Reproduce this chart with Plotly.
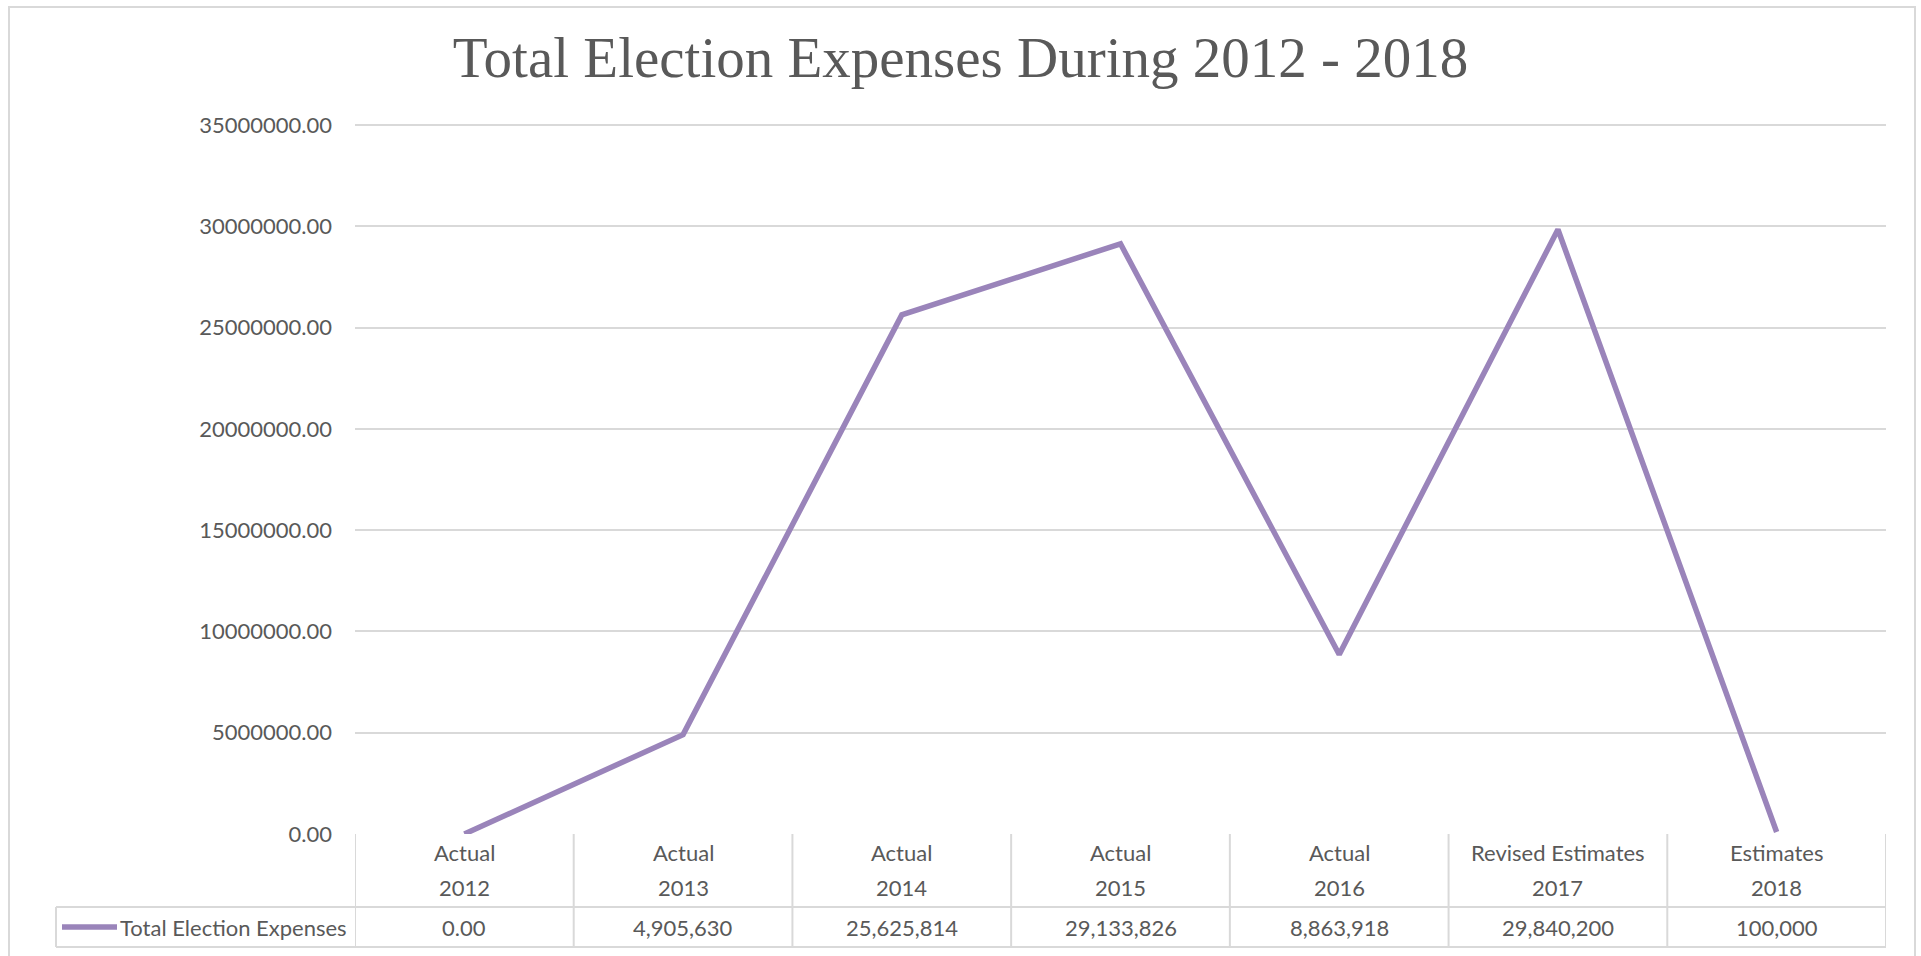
import plotly.graph_objects as go

# Series data
stages = ["Actual", "Actual", "Actual", "Actual", "Actual", "Revised Estimates", "Estimates"]
years = ["2012", "2013", "2014", "2015", "2016", "2017", "2018"]
expenses = [0, 4905630, 25625814, 29133826, 8863918, 29840200, 100000]
table_values = ["0.00", "4,905,630", "25,625,814", "29,133,826", "8,863,918", "29,840,200", "100,000"]
series_name = "Total Election Expenses"
y_ticks = [0, 5000000, 10000000, 15000000, 20000000, 25000000, 30000000, 35000000]

W, H = 1921, 956
L, R, T, B = 355, 35, 125, 122
PW, PH = W - L - R, H - T - B

LINE = "#9A84BA"
GRID = "#D9D9D9"
TXT = "#595959"
SANS = "Lato, 'Open Sans', sans-serif"
FS = 22


def px_x(px):
    return (px - L) / PW


def px_y(py):
    return (H - B - py) / PH


x = list(range(len(years)))

fig = go.Figure()
fig.add_trace(go.Scatter(
    x=x, y=expenses, mode="lines", name=series_name,
    line=dict(color=LINE, width=5.5), hoverinfo="skip", showlegend=False,
))

shapes = []
ann = []
n = len(years)

# top gridline sits on the edge of the plot area, so draw it explicitly
shapes.append(dict(type="line", xref="paper", yref="paper", x0=0, x1=1, y0=1, y1=1,
                   line=dict(color=GRID, width=2), layer="below"))

# data table under the plot: header row (stage / year) and a value row
y_top, y_mid, y_bot = px_y(834), px_y(907), px_y(947)
line_style = dict(color=GRID, width=2)
for yy in (y_mid, y_bot):
    shapes.append(dict(type="line", xref="paper", yref="paper", x0=px_x(56), x1=1, y0=yy, y1=yy, line=line_style))
shapes.append(dict(type="line", xref="paper", yref="paper", x0=px_x(56), x1=px_x(56), y0=y_mid, y1=y_bot, line=line_style))
for i in range(n + 1):
    shapes.append(dict(type="line", xref="x", yref="paper", x0=i - 0.5, x1=i - 0.5, y0=y_top, y1=y_bot, line=line_style))

for i in range(n):
    for text, py in ((stages[i], 852), (years[i], 887), (table_values[i], 927)):
        ann.append(dict(x=i, y=px_y(py), xref="x", yref="paper", text=text, showarrow=False,
                        font=dict(family=SANS, size=FS, color=TXT), yanchor="middle"))

# legend key in the table's first cell
shapes.append(dict(type="line", xref="paper", yref="paper", x0=px_x(62), x1=px_x(117),
                   y0=px_y(927), y1=px_y(927), line=dict(color=LINE, width=5.5)))
ann.append(dict(x=px_x(118), y=px_y(927), xref="paper", yref="paper", text=series_name, showarrow=False,
                xanchor="left", yanchor="middle", font=dict(family=SANS, size=FS, color=TXT)))

# outer chart frame
shapes.append(dict(type="rect", xref="paper", yref="paper", x0=px_x(9), x1=px_x(1915),
                   y0=px_y(970), y1=px_y(7), line=dict(color=GRID, width=2), layer="below"))

fig.update_layout(
    width=W, height=H,
    margin=dict(l=L, r=R, t=T, b=B, pad=0),
    paper_bgcolor="white", plot_bgcolor="white",
    title=dict(text="Total Election Expenses During 2012 - 2018", x=0.5, xanchor="center",
               y=1 - 57 / H, yanchor="middle", yref="container",
               font=dict(family="'Liberation Serif', serif", size=57, color=TXT)),
    xaxis=dict(range=[-0.5, n - 0.5], showticklabels=False, showgrid=False, zeroline=False,
               showline=False, ticks="", fixedrange=True),
    yaxis=dict(range=[0, 35000000], tickvals=y_ticks, ticktext=[f"{v:.2f}" for v in y_ticks],
               showgrid=True, gridcolor=GRID, gridwidth=2, zeroline=False, showline=False,
               ticks="", ticklabelstandoff=22, tickfont=dict(family=SANS, size=FS, color=TXT)),
    shapes=shapes, annotations=ann, showlegend=False,
)

fig.write_html("out.html")
